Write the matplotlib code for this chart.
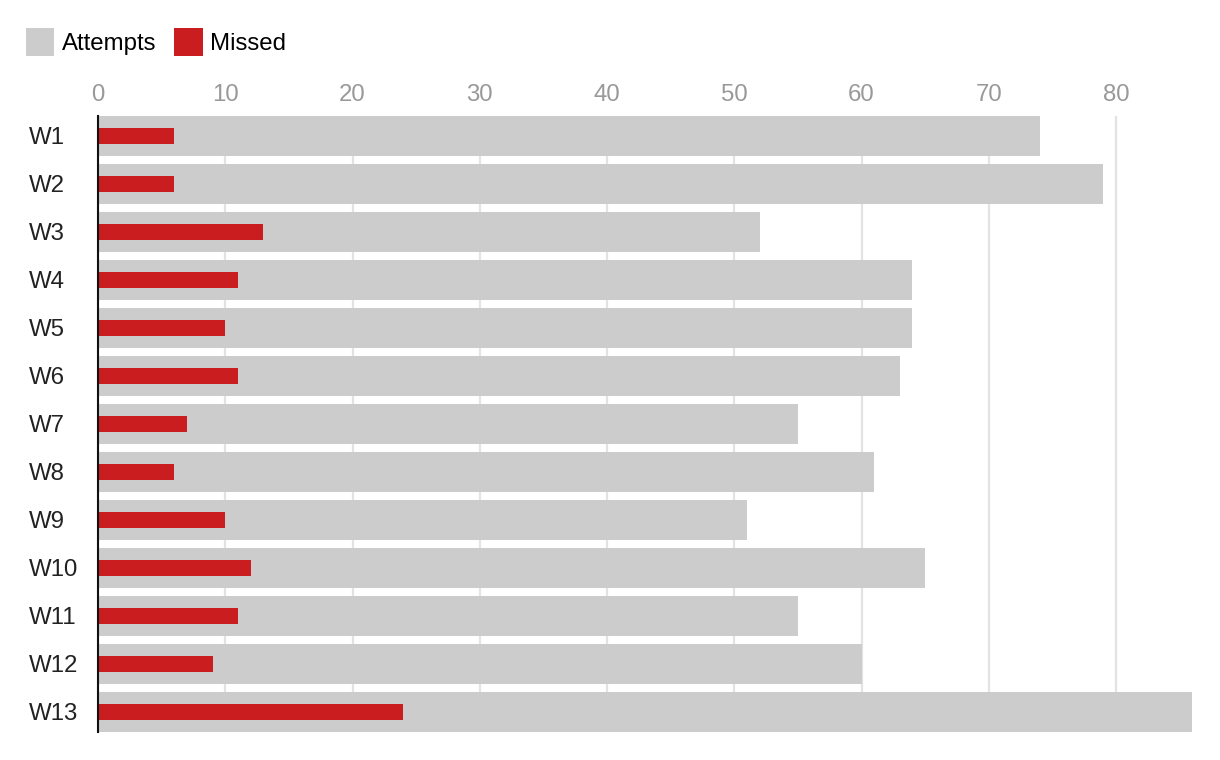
import matplotlib
matplotlib.use("agg")
import matplotlib.pyplot as plt
import numpy as np

weeks = ["W1", "W2", "W3", "W4", "W5", "W6", "W7", "W8", "W9", "W10", "W11", "W12", "W13"]
attempts = [74, 79, 52, 64, 64, 63, 55, 61, 51, 65, 55, 60, 86]
missed = [6, 6, 13, 11, 10, 11, 7, 6, 10, 12, 11, 9, 24]
xticks = [0, 10, 20, 30, 40, 50, 60, 70, 80]

plt.rcParams['font.family'] = ['Liberation Sans', 'DejaVu Sans']
FS = 17.3

W, H = 1220, 760
fig = plt.figure(figsize=(W / 100, H / 100), dpi=100)
ax = fig.add_axes([98 / W, 1 - 732 / H, (1192.35 - 98) / W, 616 / H])

y = np.arange(len(weeks))
ax.barh(y, attempts, height=40 / 48, color="#cccccc", label="Attempts", zorder=2)
ax.barh(y, missed, height=16 / 48, color="#c91d1f", label="Missed", zorder=3)

ax.set_xlim(0, 86)
ax.set_ylim(len(weeks) - 1 + 20 / 48, -20 / 48)
ax.set_yticks(y)
ax.set_yticklabels(weeks, ha="left")
ax.set_xticks(xticks)

ax.xaxis.tick_top()
ax.tick_params(axis="x", length=0, pad=7, labelsize=FS, labelcolor="#999999")
ax.tick_params(axis="y", length=0, pad=50, labelsize=FS, labelcolor="#222222")
ax.grid(axis="x", color="#e3e3e3", linewidth=1.6, zorder=0)
ax.set_axisbelow(True)

for s in ["top", "right", "bottom"]:
    ax.spines[s].set_visible(False)
ax.spines["left"].set_color("#111111")
ax.spines["left"].set_linewidth(1.5)
ax.spines["left"].set_zorder(5)

fig.legend(loc="upper left", bbox_to_anchor=(26 / W, 1 - 28 / H), ncol=2, frameon=False,
           fontsize=FS, handlelength=1.167, handleheight=1.418, handletextpad=0.33,
           columnspacing=0.75, borderpad=0, borderaxespad=0)

fig.savefig("out.png", dpi=100)
